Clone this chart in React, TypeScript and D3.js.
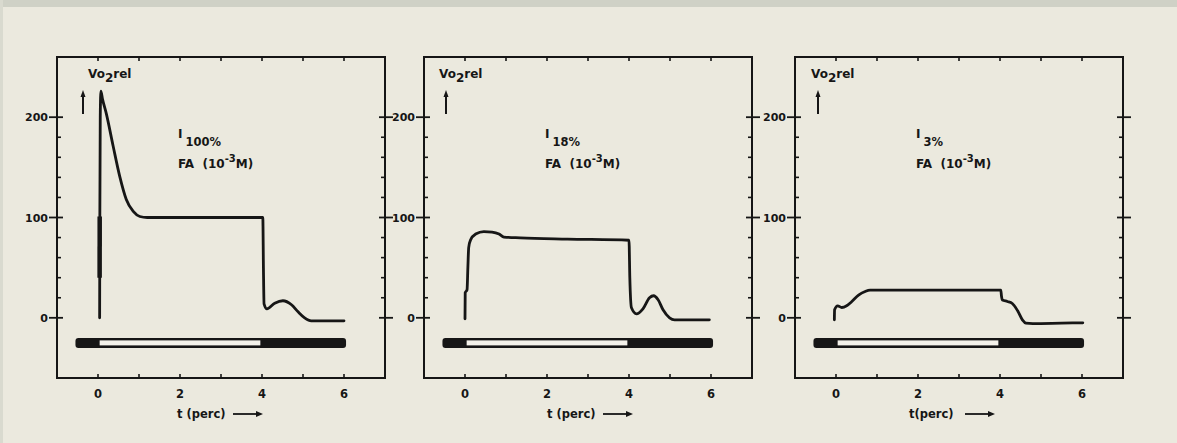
import React from "react";
import * as d3 from "d3";

// ---------- data ----------
const panelNames = ["100%", "18%", "3%"];
const xTickValues = [0, 1, 2, 3, 4, 5, 6];
const xTickLabels = ["0", "2", "4", "6"];
const xTickLabelValues = [0, 2, 4, 6];
const yMajorTicks = [0, 100, 200];
const yMinorTicks = [20, 40, 60, 80, 120, 140, 160, 180];
const yTickLabels = ["0", "100", "200"];

const series100: [number, number][] = [
  [0.04, 0], [0.045, 100], [0.055, 200], [0.07, 226], [0.11, 218], [0.2, 204],
  [0.37, 171], [0.53, 141], [0.69, 118], [0.86, 106], [1.02, 101], [1.2, 100],
  [2.0, 100], [3.0, 100], [4.02, 100], [4.035, 50], [4.05, 14], [4.12, 9],
  [4.31, 14.5], [4.51, 17], [4.72, 13], [4.88, 6], [5.04, 0], [5.2, -3],
  [5.5, -3], [6.0, -3],
];
const spike100: [number, number][] = [[0.04, 40], [0.041, 101]];

const series18: [number, number][] = [
  [0.0, -1], [0.005, 25], [0.05, 28], [0.07, 50], [0.09, 70], [0.14, 78],
  [0.26, 83.5], [0.46, 86], [0.66, 85.5], [0.83, 83.5], [0.95, 80.5],
  [1.35, 79.7], [2.5, 78.5], [4.0, 77.3], [4.02, 40], [4.06, 10], [4.18, 4],
  [4.34, 9], [4.5, 20], [4.6, 22], [4.71, 18], [4.83, 8], [4.99, 0],
  [5.11, -2], [5.96, -2],
];

const series3: [number, number][] = [
  [-0.04, -2], [-0.035, 8], [0.04, 12], [0.14, 10.3], [0.26, 12], [0.38, 16],
  [0.55, 22.7], [0.71, 26.3], [0.83, 27.7], [2.5, 27.7], [4.02, 27.7],
  [4.035, 22], [4.06, 17.7], [4.18, 16.3], [4.3, 14.3], [4.43, 7],
  [4.55, -2.3], [4.63, -5.3], [4.8, -5.7], [5.5, -5.3], [6.02, -5],
];

const allSeries = [series100, series18, series3];
const extraSeries = [spike100, [], []] as [number, number][][];

// stimulus bar (t range) and light-on range
const barRange = [-0.55, 6.05];
const lightRange = [0.04, 3.96];

// ---------- layout ----------
const W = 1177;
const H = 443;
const panelLefts = [57, 424, 795];
const panelWidth = 328;
const panelTop = 57;
const panelBottom = 378;
const voOffsets = [31, 15, 16];
const arrowOffsets = [26, 22, 23];
const xlabelOffsets = [120, 123, 114];
const ink = "#161616";
const font = "'DejaVu Sans', sans-serif";

function Panel({ i }: { i: number }) {
  const left = panelLefts[i];
  const right = left + panelWidth;
  const x = d3.scaleLinear().domain([-1, 7]).range([left, right]);
  const y = d3.scaleLinear().domain([-60, 260]).range([panelBottom, panelTop]);
  const line = d3
    .line<[number, number]>()
    .x((d) => x(d[0]))
    .y((d) => y(d[1]))
    .curve(d3.curveMonotoneX);

  const barY0 = y(-20);
  const barY1 = y(-30);
  const lightY0 = y(-22.5);
  const lightY1 = y(-27.5);

  const annX = left + 121;
  const xl = left + xlabelOffsets[i];

  return (
    <g>
      {/* frame */}
      <rect
        x={left}
        y={panelTop}
        width={panelWidth}
        height={panelBottom - panelTop}
        fill="none"
        stroke={ink}
        strokeWidth={2}
      />
      {/* top & bottom ticks */}
      {xTickValues.map((t) => (
        <g key={"xt" + t}>
          <line x1={x(t)} x2={x(t)} y1={panelTop} y2={panelTop + 4} stroke={ink} strokeWidth={1.6} />
          <line x1={x(t)} x2={x(t)} y1={panelBottom} y2={panelBottom - 4} stroke={ink} strokeWidth={1.6} />
        </g>
      ))}
      {xTickLabelValues.map((t, k) => (
        <text
          key={"xl" + t}
          x={x(t)}
          y={398}
          textAnchor="middle"
          fontFamily={font}
          fontWeight="bold"
          fontSize={11.5}
          fill={ink}
        >
          {xTickLabels[k]}
        </text>
      ))}
      {/* y ticks */}
      {yMajorTicks.map((v, k) => (
        <g key={"ym" + v}>
          <line x1={left - 8} x2={left + 6} y1={y(v)} y2={y(v)} stroke={ink} strokeWidth={1.8} />
          <line x1={right - 6} x2={right + 8} y1={y(v)} y2={y(v)} stroke={ink} strokeWidth={1.8} />
          <text
            x={left - 9}
            y={y(v) + 4}
            textAnchor="end"
            fontFamily={font}
            fontWeight="bold"
            fontSize={11}
            fill={ink}
          >
            {yTickLabels[k]}
          </text>
        </g>
      ))}
      {yMinorTicks.map((v) => (
        <g key={"yn" + v}>
          <line x1={left} x2={left + 4} y1={y(v)} y2={y(v)} stroke={ink} strokeWidth={1.6} />
          <line x1={right} x2={right - 4} y1={y(v)} y2={y(v)} stroke={ink} strokeWidth={1.6} />
        </g>
      ))}
      {/* stimulus bar */}
      <rect
        x={x(barRange[0])}
        y={barY0}
        width={x(barRange[1]) - x(barRange[0])}
        height={barY1 - barY0}
        rx={3}
        fill={ink}
      />
      <rect
        x={x(lightRange[0])}
        y={lightY0}
        width={x(lightRange[1]) - x(lightRange[0])}
        height={lightY1 - lightY0}
        fill="#f4f2ea"
      />
      {/* curve */}
      <path d={line(allSeries[i]) || ""} fill="none" stroke={ink} strokeWidth={2.8} strokeLinejoin="round" strokeLinecap="round" />
      {extraSeries[i].length > 0 && (
        <path d={line(extraSeries[i]) || ""} fill="none" stroke={ink} strokeWidth={4.5} />
      )}
      {/* y label */}
      <text x={left + voOffsets[i]} y={78} fontFamily={font} fontWeight="bold" fontSize={12} fill={ink}>
        Vo
        <tspan dy={4} fontSize={12}>2</tspan>
        <tspan dy={-4}>rel</tspan>
      </text>
      <line
        x1={left + arrowOffsets[i]}
        x2={left + arrowOffsets[i]}
        y1={114}
        y2={96}
        stroke={ink}
        strokeWidth={2}
      />
      <path
        d={`M${left + arrowOffsets[i] - 2.5},${97} L${left + arrowOffsets[i]},${90} L${left + arrowOffsets[i] + 2.5},${97} Z`}
        fill={ink}
      />
      {/* annotation */}
      <text x={annX} y={138} fontFamily={font} fontWeight="bold" fontSize={12} fill={ink}>
        I
        <tspan dx={3} dy={8} fontSize={11.5}>{panelNames[i]}</tspan>
      </text>
      <text x={annX} y={168} fontFamily={font} fontWeight="bold" fontSize={12} fill={ink}>
        {"FA\u00a0\u00a0(10"}
        <tspan dy={-6} fontSize={10}>{"-3"}</tspan>
        <tspan dy={6}>{"M)"}</tspan>
      </text>
      {/* x label */}
      <text x={xl} y={418} fontFamily={font} fontWeight="bold" fontSize={11.5} fill={ink}>
        {i === 2 ? "t(perc)" : "t (perc)"}
      </text>
      <line x1={xl + 56} x2={xl + 81} y1={414} y2={414} stroke={ink} strokeWidth={1.8} />
      <path d={`M${xl + 79},${411} L${xl + 86},${414} L${xl + 79},${417} Z`} fill={ink} />
    </g>
  );
}

export default function App() {
  return (
    <svg
      width={W}
      height={H}
      viewBox={`0 0 ${W} ${H}`}
      style={{ position: "absolute", left: 0, top: 0, display: "block" }}
    >
      <rect x={0} y={0} width={W} height={H} fill="#ebe9de" />
      <rect x={0} y={0} width={W} height={7} fill="#cfd1c6" />
      <rect x={0} y={0} width={3} height={H} fill="#d9dacf" />
      {panelNames.map((_, i) => (
        <Panel key={i} i={i} />
      ))}
    </svg>
  );
}
